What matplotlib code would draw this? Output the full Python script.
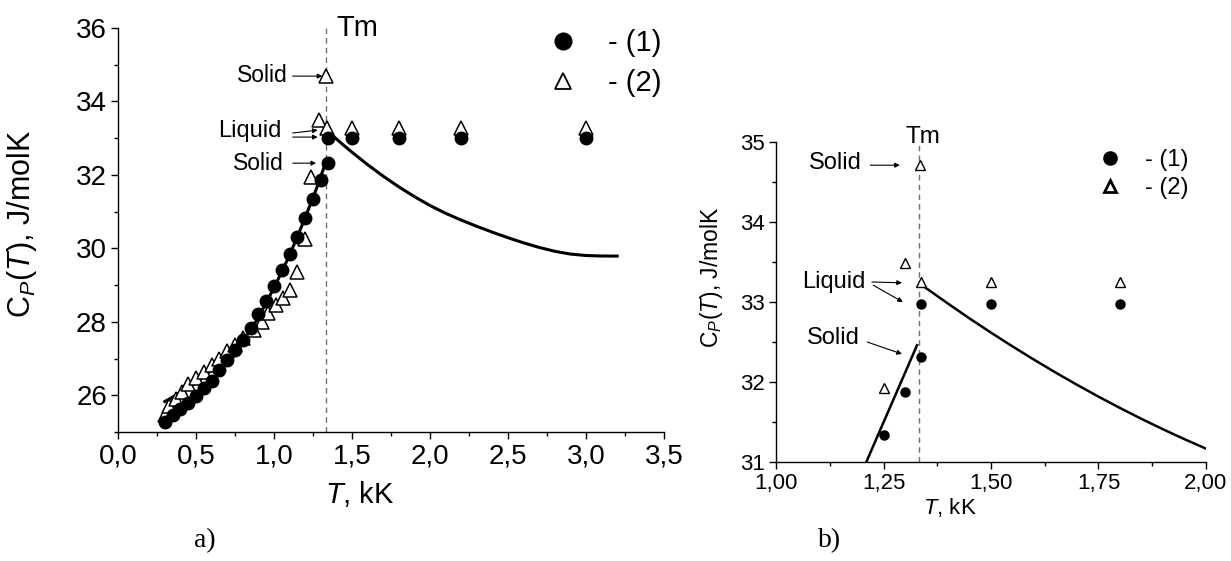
import matplotlib.pyplot as plt
from matplotlib.lines import Line2D
from matplotlib.ticker import FixedLocator, MultipleLocator

plt.rcParams['font.family'] = ['Liberation Sans', 'DejaVu Sans']
plt.rcParams['mathtext.fontset'] = 'custom'
plt.rcParams['mathtext.rm'] = 'Liberation Sans'
plt.rcParams['mathtext.it'] = 'Liberation Sans:italic'

T_MELT = 1.333

# ---- panel a) data ----
# (1) circles, solid phase
t_sol1 = [0.30, 0.35, 0.40, 0.45, 0.50, 0.55, 0.60, 0.65, 0.70, 0.75, 0.80,
          0.85, 0.90, 0.95, 1.00, 1.05, 1.10, 1.15, 1.20, 1.25, 1.30, 1.345]
cp_sol1 = [25.28, 25.45, 25.62, 25.80, 25.98, 26.20, 26.40, 26.68, 26.95, 27.22, 27.50,
           27.83, 28.20, 28.58, 28.97, 29.40, 29.84, 30.30, 30.82, 31.34, 31.86, 32.32]
# (1) circles, liquid phase
t_liq1 = [1.345, 1.50, 1.80, 2.20, 3.00]
cp_liq1 = [33.0, 33.0, 33.0, 33.0, 33.0]
# (2) triangles, solid phase
t_sol2 = [0.30, 0.33, 0.37, 0.41, 0.45, 0.50, 0.55, 0.60, 0.65, 0.70, 0.75,
          0.80, 0.87, 0.92, 0.96, 1.01, 1.06, 1.10, 1.15, 1.20, 1.24, 1.29, 1.333]
cp_sol2 = [25.45, 25.70, 25.90, 26.10, 26.30, 26.46, 26.63, 26.82, 27.00, 27.20, 27.38,
           27.56, 27.77, 27.99, 28.23, 28.45, 28.64, 28.86, 29.35, 30.25, 31.94, 33.50, 34.70]
# (2) triangles, liquid phase
t_liq2 = [1.34, 1.50, 1.80, 2.20, 3.00]
cp_liq2 = [33.27, 33.27, 33.27, 33.27, 33.27]

# calculated curves
t_calc_sol = [0.30, 0.40, 0.50, 0.60, 0.70, 0.80, 0.85, 0.90, 0.95, 1.00, 1.05,
              1.10, 1.15, 1.20, 1.27, 1.335]
cp_calc_sol = [25.83, 26.07, 26.35, 26.68, 27.06, 27.48, 27.78, 28.12, 28.52, 28.93, 29.36,
               29.82, 30.32, 30.84, 31.60, 32.38]
t_calc_liq = [1.34, 1.40, 1.45, 1.50, 1.60, 1.70, 1.80, 1.90, 2.00, 2.10, 2.20, 2.30, 2.40,
              2.50, 2.60, 2.70, 2.80, 2.90, 3.00, 3.10, 3.20]
cp_calc_liq = [33.205, 32.980, 32.795, 32.617, 32.279, 31.965, 31.675, 31.409, 31.167, 30.955,
               30.770, 30.600, 30.440, 30.290, 30.150, 30.025, 29.920, 29.845, 29.805, 29.792, 29.790]

# ---- panel b) data ----
t_b1 = [1.25, 1.30, 1.337, 1.337, 1.50, 1.80]
cp_b1 = [31.34, 31.88, 32.31, 32.97, 32.97, 32.97]
t_b2 = [1.25, 1.30, 1.335, 1.337, 1.50, 1.80]
cp_b2 = [31.93, 33.49, 34.71, 33.25, 33.25, 33.25]
t_b_sol = [1.21, 1.328]
cp_b_sol = [31.0, 32.46]
t_b_liq = [1.342, 1.40, 1.45, 1.50, 1.55, 1.60, 1.65, 1.70, 1.75, 1.80, 1.85, 1.90, 1.95, 2.00]
cp_b_liq = [33.200, 32.980, 32.795, 32.617, 32.445, 32.279, 32.119, 31.965, 31.817, 31.675,
            31.539, 31.409, 31.285, 31.167]

xticks_a = [0.0, 0.5, 1.0, 1.5, 2.0, 2.5, 3.0, 3.5]
xlabels_a = ['0,0', '0,5', '1,0', '1,5', '2,0', '2,5', '3,0', '3,5']
yticks_a = [26, 28, 30, 32, 34, 36]
xticks_b = [1.00, 1.25, 1.50, 1.75, 2.00]
xlabels_b = ['1,00', '1,25', '1,50', '1,75', '2,00']
yticks_b = [31, 32, 33, 34, 35]

W, H = 1231, 561
fig = plt.figure(figsize=(W / 100, H / 100), dpi=100)
ax_a = fig.add_axes([118 / W, 1 - 432 / H, 546 / W, 404 / H])
ax_b = fig.add_axes([776 / W, 1 - 462 / H, 430 / W, 320 / H])


def style_axes(ax, fs):
    for side in ['top', 'right']:
        ax.spines[side].set_visible(False)
    for side in ['left', 'bottom']:
        ax.spines[side].set_linewidth(1.0)
    ax.tick_params(which='major', direction='out', length=5, width=1.0, labelsize=fs, pad=3)
    ax.tick_params(which='minor', direction='out', length=3, width=1.0)


arrow_kw = dict(arrowstyle='-|>', color='black', lw=0.8, mutation_scale=7,
                shrinkA=0, shrinkB=0)

# ---------------- panel a ----------------
ax = ax_a
ax.axvline(T_MELT, color='#707070', lw=1.0, ls=(0, (4, 3)), zorder=1)
ax.plot(t_calc_sol, cp_calc_sol, color='black', lw=2.2, zorder=3)
ax.plot(t_calc_liq, cp_calc_liq, color='black', lw=2.2, zorder=3)
ax.plot(t_sol2, cp_sol2, ls='none', marker='^', ms=10, mfc='white', mec='black', mew=1.1, zorder=4)
ax.plot(t_liq2, cp_liq2, ls='none', marker='^', ms=10, mfc='white', mec='black', mew=1.1, zorder=4)
ax.plot(t_sol1, cp_sol1, ls='none', marker='o', ms=9, color='black', zorder=5)
ax.plot(t_liq1, cp_liq1, ls='none', marker='o', ms=9, color='black', zorder=5)

ax.set_xlim(0, 3.5)
ax.set_ylim(25, 36)
style_axes(ax, 20)
ax.xaxis.set_major_locator(FixedLocator(xticks_a))
ax.set_xticklabels(xlabels_a)
ax.xaxis.set_minor_locator(MultipleLocator(0.25))
ax.yaxis.set_major_locator(FixedLocator(yticks_a))
ax.yaxis.set_minor_locator(MultipleLocator(1))

ax.set_ylabel(r'C$_P$($T$), J/molK', fontsize=22, va='center')
ax.yaxis.set_label_coords(-0.176, 0.515)
ax.set_xlabel(r'$T$, kK', fontsize=21, va='center')
ax.xaxis.set_label_coords(0.443, -0.153)

ax.text(1.40, 36.0, 'Tm', fontsize=21, ha='left', va='center', clip_on=False)
ax.text(1.09, 34.72, 'Solid', fontsize=16.5, ha='right', va='center')
ax.annotate('', xy=(1.31, 34.69), xytext=(1.12, 34.69), arrowprops=arrow_kw)
ax.text(1.05, 33.19, 'Liquid', fontsize=17, ha='right', va='center')
ax.annotate('', xy=(1.28, 33.22), xytext=(1.12, 33.14), arrowprops=arrow_kw)
ax.annotate('', xy=(1.28, 33.03), xytext=(1.12, 33.03), arrowprops=arrow_kw)
ax.text(1.06, 32.32, 'Solid', fontsize=16.5, ha='right', va='center')
ax.annotate('', xy=(1.27, 32.32), xytext=(1.12, 32.32), arrowprops=arrow_kw)

handles_a = [Line2D([], [], ls='none', marker='o', ms=12, color='black'),
             Line2D([], [], ls='none', marker='^', ms=12, mfc='white', mec='black', mew=1.3)]
ax.legend(handles_a, ['- (1)', '- (2)'], loc='upper left', bbox_to_anchor=(0.788, 0.997),
          frameon=False, fontsize=21, handlelength=1.0, handletextpad=1.04,
          labelspacing=0.4, borderpad=0, borderaxespad=0, numpoints=1)

# ---------------- panel b ----------------
ax = ax_b
ax.axvline(T_MELT, color='#707070', lw=1.0, ls=(0, (4, 3)), zorder=1)
ax.plot(t_b_sol, cp_b_sol, color='black', lw=1.8, zorder=3)
ax.plot(t_b_liq, cp_b_liq, color='black', lw=1.8, zorder=3)
ax.plot(t_b2, cp_b2, ls='none', marker='^', ms=7, mfc='white', mec='black', mew=1.0, zorder=4)
ax.plot(t_b1, cp_b1, ls='none', marker='o', ms=6.5, color='black', zorder=5)

ax.set_xlim(1.0, 2.0)
ax.set_ylim(31, 35)
style_axes(ax, 16)
ax.xaxis.set_major_locator(FixedLocator(xticks_b))
ax.set_xticklabels(xlabels_b)
ax.xaxis.set_minor_locator(MultipleLocator(0.125))
ax.yaxis.set_major_locator(FixedLocator(yticks_b))
ax.yaxis.set_minor_locator(MultipleLocator(0.5))

ax.set_ylabel(r'C$_P$($T$), J/molK', fontsize=16.5, va='center')
ax.yaxis.set_label_coords(-0.151, 0.578)
ax.set_xlabel(r'$T$, kK', fontsize=16, va='center')
ax.xaxis.set_label_coords(0.405, -0.141)

ax.text(1.30, 35.06, 'Tm', fontsize=17.5, ha='left', va='center', clip_on=False)
ax.text(1.20, 34.74, 'Solid', fontsize=17, ha='right', va='center')
ax.annotate('', xy=(1.288, 34.71), xytext=(1.219, 34.71), arrowprops=arrow_kw)
ax.text(1.207, 33.25, 'Liquid', fontsize=17, ha='right', va='center')
ax.annotate('', xy=(1.293, 33.24), xytext=(1.223, 33.25), arrowprops=arrow_kw)
ax.annotate('', xy=(1.295, 33.0), xytext=(1.226, 33.21), arrowprops=arrow_kw)
ax.text(1.195, 32.55, 'Solid', fontsize=17, ha='right', va='center')
ax.annotate('', xy=(1.293, 32.35), xytext=(1.212, 32.5), arrowprops=arrow_kw)

handles_b = [Line2D([], [], ls='none', marker='o', ms=9.5, color='black'),
             Line2D([], [], ls='none', marker='^', ms=8.5, mfc='white', mec='black', mew=2.0)]
ax.legend(handles_b, ['- (1)', '- (2)'], loc='upper left', bbox_to_anchor=(0.749, 0.978),
          frameon=False, fontsize=17, handlelength=1.0, handletextpad=0.98,
          labelspacing=0.27, borderpad=0, borderaxespad=0, numpoints=1)

fig.text(205 / W, 1 - 541 / H, 'a)', fontsize=20, family='Liberation Serif', ha='center', va='center')
fig.text(830 / W, 1 - 541 / H, 'b)', fontsize=20, family='Liberation Serif', ha='center', va='center')

fig.savefig('out.png', dpi=100)
